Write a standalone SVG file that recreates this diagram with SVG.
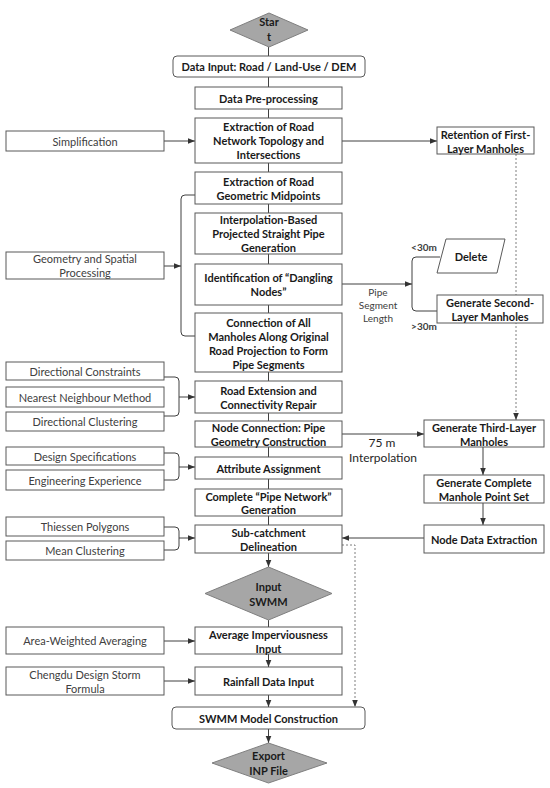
<svg xmlns="http://www.w3.org/2000/svg" width="550" height="788" viewBox="0 0 550 788">
<defs>
<style>
.bx{fill:#fff;stroke:#595959;stroke-width:1}
.dm{fill:#a6a6a6;stroke:#7f7f7f;stroke-width:1}
.c{fill:none;stroke:#404040;stroke-width:1}
.d{fill:none;stroke:#7f7f7f;stroke-width:1;stroke-dasharray:2 2}
text{font-family:Lato,"Liberation Sans",sans-serif;text-anchor:middle;dominant-baseline:central}
.b{font-size:11px;font-weight:bold;fill:#1a1a1a}
.r{font-size:11px;fill:#404040}
.s{font-size:10px;fill:#404040}
.sb{font-size:10px;font-weight:bold;fill:#404040}
.m{font-size:12px;fill:#262626}
</style>
<marker id="ah" viewBox="0 0 10 10" refX="10" refY="5" markerWidth="7" markerHeight="7" orient="auto" markerUnits="userSpaceOnUse"><path d="M0,1 L10,5 L0,9 z" fill="#333"/></marker>
</defs>
<g id="connectors">
<path class="c" d="M268.5,47V56M268.5,77V87M268.5,109V118M268.5,163V172M268.5,204V213M268.5,254V264M268.5,305V313M268.5,372V381M268.5,413V421M268.5,447V457M268.5,479V489M268.5,516V525M268.5,620V627"/>
<path class="c" d="M268.5,553V567" marker-end="url(#ah)"/>
<path class="c" d="M268.5,654V667" marker-end="url(#ah)"/>
<path class="c" d="M268.5,695V707" marker-end="url(#ah)"/>
<path class="c" d="M268.5,729V743" marker-end="url(#ah)"/>
<path class="c" d="M164,141H195" marker-end="url(#ah)"/>
<path class="c" d="M342,141H437" marker-end="url(#ah)"/>
<path class="d" d="M516,154V420" marker-end="url(#ah)"/>
<path class="c" d="M195,195H185Q181,195 181,199V332Q181,336 185,336H195"/>
<path class="c" d="M164,266H181" marker-end="url(#ah)"/>
<path class="c" d="M342,284H412" marker-end="url(#ah)"/>
<path class="c" d="M440,257H416Q412,257 412,261V307Q412,311 416,311H437"/>
<path class="c" d="M164,377H175Q179,377 179,381V412Q179,416 175,416H164"/>
<path class="c" d="M179,397H195" marker-end="url(#ah)"/>
<path class="c" d="M342,434H424" marker-end="url(#ah)"/>
<path class="c" d="M164,453H175Q179,453 179,457V476Q179,480 175,480H164"/>
<path class="c" d="M179,467H195" marker-end="url(#ah)"/>
<path class="c" d="M483,447V475" marker-end="url(#ah)"/>
<path class="c" d="M483,503V525" marker-end="url(#ah)"/>
<path class="c" d="M424,538H342" marker-end="url(#ah)"/>
<path class="c" d="M164,527H175Q179,527 179,531V546Q179,550 175,550H164"/>
<path class="c" d="M179,538H195" marker-end="url(#ah)"/>
<path class="d" d="M342,545H355V707" marker-end="url(#ah)"/>
<path class="c" d="M164,641H195" marker-end="url(#ah)"/>
<path class="c" d="M164,681H195" marker-end="url(#ah)"/>
</g>
<g id="start"><path class="dm" d="M230,30L269,13L308,30L269,47Z"/><text class="b" x="269" y="21">Star</text><text class="b" x="269" y="36">t</text></g>
<g id="data-input"><rect class="bx" x="173" y="56" width="192" height="21" rx="4"/><text class="b" x="269" y="66.5">Data Input: Road / Land-Use / DEM</text></g>
<g id="preprocessing"><rect class="bx" x="195" y="87" width="147" height="22"/><text class="b" x="268.5" y="98">Data Pre-processing</text></g>
<g id="extraction-topology"><rect class="bx" x="195" y="118" width="147" height="45"/><text class="b" x="268.5" y="126.5">Extraction of Road</text><text class="b" x="268.5" y="140.5">Network Topology and</text><text class="b" x="268.5" y="154.5">Intersections</text></g>
<g id="simplification"><rect class="bx" x="6" y="131" width="158" height="20"/><text class="r" x="85" y="141">Simplification</text></g>
<g id="retention"><rect class="bx" x="437" y="127" width="97" height="27"/><text class="b" x="485.5" y="134">Retention of First-</text><text class="b" x="485.5" y="148">Layer Manholes</text></g>
<g id="midpoints"><rect class="bx" x="195" y="172" width="147" height="32"/><text class="b" x="268.5" y="181">Extraction of Road</text><text class="b" x="268.5" y="195">Geometric Midpoints</text></g>
<g id="interpolation"><rect class="bx" x="195" y="213" width="147" height="41"/><text class="b" x="268.5" y="219.5">Interpolation-Based</text><text class="b" x="268.5" y="233.5">Projected Straight Pipe</text><text class="b" x="268.5" y="247.5">Generation</text></g>
<g id="geometry"><rect class="bx" x="6" y="252" width="158" height="27"/><text class="r" x="85" y="258.5">Geometry and Spatial</text><text class="r" x="85" y="272.5">Processing</text></g>
<g id="dangling"><rect class="bx" x="195" y="264" width="147" height="41"/><text class="b" x="268.5" y="277.5">Identification of “Dangling</text><text class="b" x="268.5" y="291.5">Nodes”</text></g>
<g id="connection"><rect class="bx" x="195" y="313" width="147" height="59"/><text class="b" x="268.5" y="322">Connection of All</text><text class="b" x="268.5" y="336">Manholes Along Original</text><text class="b" x="268.5" y="350">Road Projection to Form</text><text class="b" x="268.5" y="364">Pipe Segments</text></g>
<g id="pipe-length-label"><text class="s" x="378" y="292">Pipe</text><text class="s" x="378" y="305">Segment</text><text class="s" x="378" y="318">Length</text><text class="sb" x="424" y="247">&lt;30m</text><text class="sb" x="424" y="326">&gt;30m</text></g>
<g id="delete"><path class="bx" d="M446,239H505L497,273H437Z"/><text class="b" x="471" y="256">Delete</text></g>
<g id="second-layer"><rect class="bx" x="437" y="295" width="106" height="28"/><text class="b" x="490" y="302">Generate Second-</text><text class="b" x="490" y="316">Layer Manholes</text></g>
<g id="dir-constraints"><rect class="bx" x="6" y="362" width="158" height="18"/><text class="r" x="85" y="371">Directional Constraints</text></g>
<g id="nearest"><rect class="bx" x="6" y="387" width="158" height="20"/><text class="r" x="85" y="397">Nearest Neighbour Method</text></g>
<g id="dir-clustering"><rect class="bx" x="6" y="412" width="158" height="19"/><text class="r" x="85" y="421.5">Directional Clustering</text></g>
<g id="road-extension"><rect class="bx" x="195" y="381" width="147" height="32"/><text class="b" x="268.5" y="390">Road Extension and</text><text class="b" x="268.5" y="404">Connectivity Repair</text></g>
<g id="node-connection"><rect class="bx" x="195" y="421" width="147" height="26"/><text class="b" x="268.5" y="427.5">Node Connection: Pipe</text><text class="b" x="268.5" y="441">Geometry Construction</text></g>
<g id="interp-label"><text class="m" x="382" y="442">75 m</text><text class="m" x="383" y="457">Interpolation</text></g>
<g id="third-layer"><rect class="bx" x="424" y="420" width="120" height="27"/><text class="b" x="484" y="427">Generate Third-Layer</text><text class="b" x="484" y="441">Manholes</text></g>
<g id="design-spec"><rect class="bx" x="6" y="447" width="158" height="18"/><text class="r" x="85" y="456">Design Specifications</text></g>
<g id="engineering"><rect class="bx" x="6" y="470" width="158" height="20"/><text class="r" x="85" y="480">Engineering Experience</text></g>
<g id="attribute"><rect class="bx" x="195" y="457" width="147" height="22"/><text class="b" x="268.5" y="468">Attribute Assignment</text></g>
<g id="complete-manhole"><rect class="bx" x="424" y="475" width="120" height="28"/><text class="b" x="484" y="482">Generate Complete</text><text class="b" x="484" y="496">Manhole Point Set</text></g>
<g id="complete-network"><rect class="bx" x="195" y="489" width="147" height="27"/><text class="b" x="268.5" y="496">Complete “Pipe Network”</text><text class="b" x="268.5" y="509.5">Generation</text></g>
<g id="thiessen"><rect class="bx" x="6" y="517" width="158" height="19"/><text class="r" x="85" y="526.5">Thiessen Polygons</text></g>
<g id="mean-clustering"><rect class="bx" x="6" y="541" width="158" height="19"/><text class="r" x="85" y="550.5">Mean Clustering</text></g>
<g id="subcatchment"><rect class="bx" x="195" y="525" width="147" height="28"/><text class="b" x="268.5" y="532">Sub-catchment</text><text class="b" x="268.5" y="546">Delineation</text></g>
<g id="node-data"><rect class="bx" x="424" y="525" width="120" height="28"/><text class="b" x="484" y="539">Node Data Extraction</text></g>
<g id="input-swmm"><path class="dm" d="M205,593.5L268.5,567L332,593.5L268.5,620Z"/><text class="b" x="268.5" y="586.5">Input</text><text class="b" x="268.5" y="601">SWMM</text></g>
<g id="area-weighted"><rect class="bx" x="6" y="627" width="158" height="27"/><text class="r" x="85" y="640.5">Area-Weighted Averaging</text></g>
<g id="imperviousness"><rect class="bx" x="195" y="627" width="147" height="27"/><text class="b" x="268.5" y="634">Average Imperviousness</text><text class="b" x="268.5" y="648">Input</text></g>
<g id="chengdu"><rect class="bx" x="6" y="667" width="158" height="28"/><text class="r" x="85" y="674">Chengdu Design Storm</text><text class="r" x="85" y="688">Formula</text></g>
<g id="rainfall"><rect class="bx" x="195" y="667" width="147" height="28"/><text class="b" x="268.5" y="681">Rainfall Data Input</text></g>
<g id="swmm-model"><rect class="bx" x="172" y="707" width="193" height="22" rx="4"/><text class="b" x="268.5" y="718">SWMM Model Construction</text></g>
<g id="export"><path class="dm" d="M212,763L268.5,743L327,763L268.5,783Z"/><text class="b" x="268.5" y="755">Export</text><text class="b" x="268.5" y="770">INP File</text></g>
</svg>
